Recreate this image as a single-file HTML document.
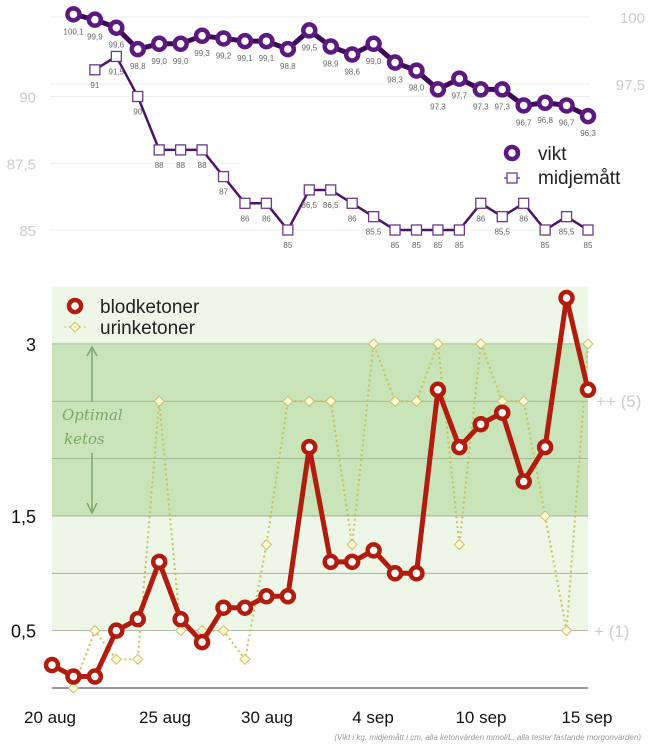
<!DOCTYPE html>
<html><head><meta charset="utf-8"><style>
html,body{margin:0;padding:0;background:#fff;width:650px;height:744px;overflow:hidden}
svg{display:block;font-family:"Liberation Sans",sans-serif}
</style></head><body>
<svg id="c" width="650" height="744"></svg>
<script>
const vikt=[100.1,99.9,99.6,98.8,99.0,99.0,99.3,99.2,99.1,99.1,98.8,99.5,98.9,98.6,99.0,98.3,98.0,97.3,97.7,97.3,97.3,96.7,96.8,96.7,96.3];
const viktLabels=["100,1","99,9","99,6","98,8","99,0","99,0","99,3","99,2","99,1","99,1","98,8","99,5","98,9","98,6","99,0","98,3","98,0","97,3","97,7","97,3","97,3","96,7","96,8","96,7","96,3"];
const midje=[91,91.5,90,88,88,88,87,86,86,85,86.5,86.5,86,85.5,85,85,85,85,86,85.5,86,85,85.5,85];
const blod=[0.2,0.1,0.1,0.5,0.6,1.1,0.6,0.4,0.7,0.7,0.8,0.8,2.1,1.1,1.1,1.2,1.0,1.0,2.6,2.1,2.3,2.4,1.8,2.1,3.4,2.6];
const urin=[0,0.5,0.25,0.25,2.5,0.5,0.5,0.5,0.25,1.25,2.5,2.5,2.5,1.25,3,2.5,2.5,3,1.25,3,2.5,2.5,1.5,0.5,3];
const dateLabels=["20 aug","25 aug","30 aug","4 sep","10 sep","15 sep"];
const dateX=[50,165,267,373,481,587];
const leftTicksTop=[90,87.5,85];
const rightTicksTop=[100,97.5];
const ketTicks=[3,1.5,0.5];

const svg=document.getElementById('c');
const NS='http://www.w3.org/2000/svg';
function mk(t,a,p){const e=document.createElementNS(NS,t);for(const k in a)e.setAttribute(k,a[k]);(p||svg).appendChild(e);return e;}
const X=i=>52+i*21.44;
const yV=v=>17-(v-100)*26.8;
const yM=v=>230-(v-85)*26.7;
const yK=v=>688-v*114.7;
const fmt=v=>String(v).replace('.',',');

// top gridlines
[100,97.5].forEach(v=>{const l=mk('line',{x1:50,x2:590,y1:yV(v),y2:yV(v),stroke:'#eee'});});
[90,87.5,85].forEach(v=>{const l=mk('line',{x1:50,x2:v==87.5?240:590,y1:yM(v),y2:yM(v),stroke:'#eee'});});
leftTicksTop.forEach(v=>{const t=mk('text',{x:36,y:yM(v)+6,'text-anchor':'end','font-size':15,fill:'#ccc'});t.textContent=fmt(v);});
rightTicksTop.forEach(v=>{const t=mk('text',{x:645,y:yV(v)+6,'text-anchor':'end','font-size':15,fill:'#ccc'});t.textContent=fmt(v);});

// midjemått
let p=midje.map((v,i)=>X(i+2)+','+yM(v)).join(' ');
let pl=mk('polyline',{points:p,fill:'none',stroke:'#4a1566','stroke-width':2.5});

midje.forEach((v,i)=>{const r=mk('rect',{x:X(i+2)-5,y:yM(v)-5,width:10,height:10,fill:'#fff',stroke:'#6a3a86','stroke-width':1.3});
const t=mk('text',{x:X(i+2),y:yM(v)+18,'text-anchor':'middle','font-size':8,fill:'#666'});t.textContent=fmt(v);});

// vikt
p=vikt.map((v,i)=>X(i+1)+','+yV(v)).join(' ');
pl=mk('polyline',{points:p,fill:'none',stroke:'#3d0b55','stroke-width':5});

vikt.forEach((v,i)=>{const c=mk('circle',{cx:X(i+1),cy:yV(v),r:6,fill:'#fff',stroke:'#5c1a80','stroke-width':4.5});
const t=mk('text',{x:X(i+1),y:yV(v)+20,'text-anchor':'middle','font-size':8,fill:'#666'});t.textContent=viktLabels[i];});

// top legend
let e=mk('circle',{cx:512,cy:153,r:6,fill:'#fff',stroke:'#5c1a80','stroke-width':4.5});
e=mk('text',{x:538,y:160,'font-size':19,fill:'#222'});e.textContent='vikt';
e=mk('line',{x1:504,x2:520,y1:178,y2:178,stroke:'#6a3a86','stroke-width':1.3});
e=mk('rect',{x:507,y:173,width:10,height:10,fill:'#fff',stroke:'#6a3a86','stroke-width':1.3});
e=mk('text',{x:538,y:184,'font-size':19,fill:'#222'});e.textContent='midjemått';

// bottom bands
e=mk('rect',{x:52,y:yK(3.5),width:536,height:yK(3)-yK(3.5),fill:'#eef6e8'});
e=mk('rect',{x:52,y:yK(3),width:536,height:yK(1.5)-yK(3),fill:'#c8e4b8'});
e=mk('rect',{x:52,y:yK(1.5),width:536,height:yK(0.5)-yK(1.5),fill:'#eef6e8'});
[0.5,1,1.5,2,2.5,3].forEach(v=>{const l=mk('line',{x1:52,x2:588,y1:yK(v),y2:yK(v),stroke:'#9aaa90','stroke-width':0.8});});
e=mk('line',{x1:52,x2:588,y1:688,y2:688,stroke:'#777','stroke-width':1.5});
ketTicks.forEach(v=>{const t=mk('text',{x:36,y:yK(v)+7,'text-anchor':'end','font-size':18,fill:'#111'});t.textContent=fmt(v);});
dateLabels.forEach((d,i)=>{const t=mk('text',{x:dateX[i],y:723,'text-anchor':'middle','font-size':17,fill:'#111'});t.textContent=d;});
e=mk('text',{x:596,y:407,'font-size':17,fill:'#ccc'});e.textContent='++ (5)';
e=mk('text',{x:594,y:637,'font-size':17,fill:'#ccc'});e.textContent='+ (1)';

// optimal ketos annotation
e=mk('path',{d:'M92,348 L92,402 M87,356 L92,347 L97,356 M92,453 L92,512 M87,503 L92,513 L97,503',stroke:'#7aa868','stroke-width':1.5,fill:'none'});
e=mk('text',{x:62,y:420,'font-size':15,'font-style':'italic',fill:'#7aa868','font-family':'DejaVu Serif, serif'});e.textContent='Optimal';
e=mk('text',{x:64,y:444,'font-size':15,'font-style':'italic',fill:'#7aa868','font-family':'DejaVu Serif, serif'});e.textContent='ketos';

// urine
p=urin.map((v,i)=>X(i+1)+','+yK(v)).join(' ');
pl=mk('polyline',{points:p,fill:'none',stroke:'#c6c25a','stroke-width':2,'stroke-dasharray':'2,3'});

urin.forEach((v,i)=>{const x=X(i+1),y=yK(v);const d=mk('polygon',{points:`${x},${y-5} ${x+5},${y} ${x},${y+5} ${x-5},${y}`,fill:'#fffbd8',stroke:'#c8bf6a','stroke-width':1});});

// blood
p=blod.map((v,i)=>X(i)+','+yK(v)).join(' ');
pl=mk('polyline',{points:p,fill:'none',stroke:'#b01c0e','stroke-width':5,'stroke-linejoin':'round'});

blod.forEach((v,i)=>{const c=mk('circle',{cx:X(i),cy:yK(v),r:6,fill:'#fff',stroke:'#b01c0e','stroke-width':4.5});});

// bottom legend
e=mk('circle',{cx:75,cy:306,r:6,fill:'#fff',stroke:'#b01c0e','stroke-width':4.5});
e=mk('text',{x:100,y:313,'font-size':19,fill:'#222'});e.textContent='blodketoner';
e=mk('polygon',{points:'75,322 80,327 75,332 70,327',fill:'#fffbd8',stroke:'#c8bf6a'});
e=mk('line',{x1:64,x2:86,y1:327,y2:327,stroke:'#c6c25a','stroke-dasharray':'2,3'});
e=mk('text',{x:100,y:334,'font-size':19,fill:'#222'});e.textContent='urinketoner';

e=mk('text',{x:641,y:740,'text-anchor':'end','font-size':8,'font-style':'italic',fill:'#999'});e.textContent='(Vikt i kg, midjemått i cm, alla ketonvärden mmol/L, alla tester fastande morgonvärden)';
</script>
</body></html>
